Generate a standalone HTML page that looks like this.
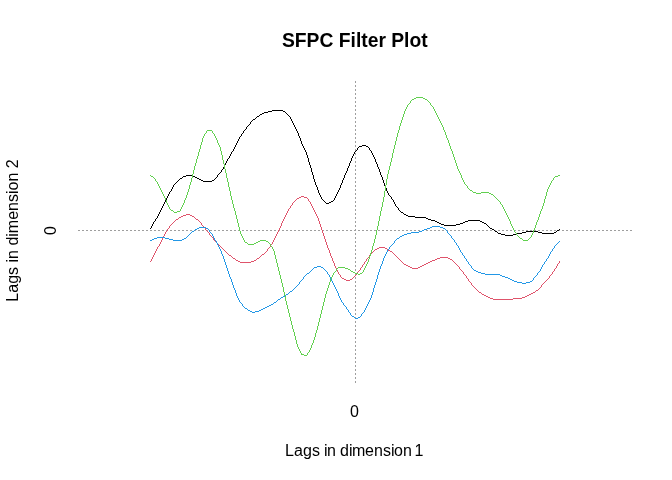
<!DOCTYPE html>
<html><head><meta charset="utf-8"><title>SFPC Filter Plot</title>
<style>
html,body{margin:0;padding:0;background:#fff;}
body{width:672px;height:480px;overflow:hidden;}
svg{display:block;}
text{font-family:"Liberation Sans",sans-serif;fill:#000;}
</style></head><body>
<svg width="672" height="480" viewBox="0 0 672 480">
<rect width="672" height="480" fill="#fff"/>
<g fill="none" stroke-width="1" shape-rendering="crispEdges">
<line x1="78" y1="230.5" x2="632" y2="230.5" stroke="#9E9E9E" stroke-dasharray="2 2"/>
<line x1="355.5" y1="383" x2="355.5" y2="79" stroke="#9E9E9E" stroke-dasharray="2 2"/>
</g>
<g fill="none" stroke-width="1" shape-rendering="crispEdges">
<path d="M150 228.5h1M151.5 226v2M152.5 224v2M153.5 222v2M154 221.5h1M155.5 219v2M156 218.5h1M157.5 216v2M158.5 214v2M159.5 212v2M160.5 210v2M161.5 208v2M162.5 206v2M163.5 204v2M164.5 202v2M165.5 200v2M166.5 198v2M167.5 196v2M168.5 194v2M169.5 192v2M170 191.5h1M171.5 189v2M172.5 187v2M173.5 185v2M174 184.5h1M175 183.5h1M176 182.5h1M177 181.5h1M178 180.5h1M179 179.5h1M180 178.5h2M182 177.5h1M183 176.5h3M186 175.5h7M193 176.5h2M195 177.5h2M197 178.5h2M199 179.5h2M201 180.5h2M203 181.5h9M212 180.5h2M214 179.5h1M215 178.5h1M216 177.5h1M217.5 175v2M218 174.5h1M219 173.5h1M220 172.5h1M221.5 170v2M222 169.5h1M223.5 167v2M224.5 165v2M225.5 163v2M226.5 161v2M227.5 159v2M228 158.5h1M229.5 156v2M230.5 154v2M231.5 152v2M232 151.5h1M233.5 149v2M234.5 147v2M235.5 145v2M236.5 143v2M237.5 141v2M238.5 139v2M239.5 137v2M240 136.5h1M241.5 134v2M242 133.5h1M243.5 131v2M244 130.5h1M245 129.5h1M246.5 127v2M247 126.5h1M248 125.5h1M249 124.5h1M250.5 122v2M251 121.5h1M252 120.5h1M253 119.5h2M255 118.5h1M256 117.5h1M257 116.5h2M259 115.5h1M260 114.5h2M262 113.5h2M264 112.5h4M268 111.5h4M272 110.5h11M283 111.5h2M285 112.5h1M286 113.5h1M287 114.5h1M288 115.5h1M289 116.5h1M290.5 117v2M291.5 119v2M292.5 121v2M293.5 123v2M294.5 125v2M295.5 127v2M296.5 129v2M297.5 131v2M298.5 133v3M299.5 136v2M300.5 138v3M301.5 141v3M302.5 144v2M303.5 146v2M304.5 148v2M305.5 150v2M306.5 152v3M307.5 155v3M308.5 158v4M309.5 162v3M310.5 165v3M311.5 168v4M312.5 172v3M313.5 175v4M314.5 179v3M315.5 182v3M316.5 185v2M317.5 187v3M318.5 190v3M319.5 193v2M320.5 195v2M321.5 197v2M322 199.5h1M323 200.5h1M324 201.5h1M325 202.5h1M326 203.5h3M329 202.5h2M331 201.5h2M333 200.5h1M334.5 198v2M335.5 196v2M336.5 194v2M337.5 192v2M338.5 190v2M339.5 188v2M340.5 185v3M341.5 183v2M342.5 180v3M343.5 178v2M344.5 175v3M345.5 173v2M346.5 171v2M347.5 168v3M348.5 166v2M349.5 163v3M350.5 161v2M351.5 158v3M352.5 156v2M353.5 154v2M354.5 152v2M355 151.5h1M356 150.5h1M357.5 148v2M358 147.5h1M359 146.5h3M362 145.5h4M366 146.5h2M368 147.5h1M369.5 148v2M370 150.5h1M371.5 151v2M372.5 153v2M373.5 155v2M374.5 157v2M375.5 159v3M376.5 162v2M377.5 164v3M378.5 167v2M379.5 169v3M380.5 172v3M381.5 175v2M382.5 177v3M383.5 180v3M384.5 183v3M385.5 186v2M386.5 188v3M387.5 191v2M388.5 193v2M389 195.5h1M390 196.5h1M391.5 197v2M392 199.5h1M393.5 200v2M394.5 202v2M395.5 204v2M396 206.5h1M397 207.5h1M398.5 208v2M399 210.5h1M400 211.5h1M401 212.5h2M403 213.5h1M404 214.5h2M406 215.5h2M408 216.5h7M415 217.5h11M426 218.5h2M428 219.5h3M431 220.5h4M435 221.5h2M437 222.5h2M439 223.5h2M441 224.5h3M444 225.5h12M456 224.5h4M460 223.5h3M463 222.5h2M465 221.5h3M468 220.5h12M480 221.5h2M482 222.5h2M484 223.5h2M486 224.5h1M487 225.5h1M488 226.5h1M489 227.5h1M490 228.5h2M492 229.5h2M494 230.5h1M495 231.5h2M497 232.5h1M498 233.5h3M501 234.5h4M505 235.5h8M513 234.5h4M517 233.5h5M522 232.5h4M526 231.5h12M538 232.5h4M542 233.5h12M554 232.5h2M556 231.5h1M557 230.5h2M559 229.5h1" stroke="#000000"/>
<path d="M150 261.5h1M151.5 259v2M152.5 257v2M153.5 255v2M154.5 253v2M155.5 251v2M156.5 249v2M157.5 247v2M158 246.5h1M159.5 244v2M160.5 242v2M161.5 240v2M162.5 238v2M163.5 236v2M164.5 234v2M165.5 232v2M166 231.5h1M167.5 229v2M168 228.5h1M169.5 226v2M170 225.5h1M171 224.5h1M172 223.5h1M173 222.5h1M174 221.5h1M175 220.5h1M176 219.5h2M178 218.5h1M179 217.5h2M181 216.5h2M183 215.5h3M186 214.5h4M190 215.5h2M192 216.5h2M194 217.5h1M195 218.5h1M196 219.5h2M198 220.5h1M199 221.5h1M200 222.5h1M201.5 223v2M202 225.5h1M203 226.5h1M204 227.5h1M205.5 228v2M206 230.5h1M207 231.5h1M208 232.5h1M209.5 233v2M210 235.5h1M211 236.5h1M212 237.5h1M213.5 238v2M214 240.5h1M215 241.5h1M216 242.5h1M217 243.5h1M218 244.5h1M219 245.5h1M220 246.5h1M221 247.5h1M222 248.5h1M223 249.5h1M224 250.5h1M225 251.5h1M226 252.5h1M227 253.5h1M228 254.5h1M229 255.5h2M231 256.5h1M232 257.5h1M233 258.5h2M235 259.5h1M236 260.5h2M238 261.5h2M240 262.5h11M251 261.5h3M254 260.5h2M256 259.5h1M257 258.5h2M259 257.5h1M260 256.5h1M261 255.5h1M262 254.5h2M264 253.5h1M265 252.5h1M266 251.5h1M267.5 249v2M268 248.5h1M269 247.5h1M270.5 245v2M271 244.5h1M272.5 242v2M273.5 240v2M274.5 238v2M275.5 236v2M276.5 234v2M277.5 232v2M278.5 230v2M279.5 228v2M280.5 226v2M281.5 223v3M282.5 221v2M283.5 219v2M284.5 217v2M285.5 215v2M286.5 213v2M287.5 211v2M288.5 209v2M289 208.5h1M290.5 206v2M291 205.5h1M292.5 203v2M293 202.5h1M294 201.5h1M295 200.5h1M296 199.5h1M297 198.5h2M299 197.5h2M301 196.5h3M304 197.5h3M307 198.5h1M308.5 199v2M309 201.5h1M310.5 202v2M311.5 204v2M312.5 206v2M313.5 208v2M314.5 210v2M315.5 212v2M316.5 214v2M317.5 216v2M318.5 218v3M319.5 221v3M320.5 224v3M321.5 227v3M322.5 230v3M323.5 233v3M324.5 236v3M325.5 239v3M326.5 242v3M327.5 245v3M328.5 248v2M329.5 250v3M330.5 253v3M331.5 256v2M332.5 258v3M333.5 261v2M334.5 263v3M335.5 266v2M336.5 268v2M337.5 270v2M338.5 272v2M339 274.5h1M340.5 275v2M341 277.5h1M342 278.5h2M344 279.5h2M346 280.5h4M350 279.5h2M352 278.5h1M353 277.5h1M354 276.5h1M355 275.5h1M356 274.5h1M357.5 272v2M358 271.5h1M359 270.5h1M360.5 268v2M361 267.5h1M362.5 265v2M363 264.5h1M364.5 262v2M365 261.5h1M366.5 259v2M367 258.5h1M368 257.5h1M369.5 255v2M370 254.5h1M371 253.5h1M372 252.5h1M373 251.5h1M374 250.5h1M375 249.5h2M377 248.5h2M379 247.5h6M385 248.5h2M387 249.5h1M388 250.5h2M390 251.5h2M392 252.5h1M393 253.5h1M394 254.5h1M395 255.5h1M396 256.5h1M397 257.5h1M398 258.5h1M399 259.5h1M400 260.5h1M401 261.5h1M402 262.5h1M403 263.5h1M404 264.5h2M406 265.5h2M408 266.5h2M410 267.5h2M412 268.5h6M418 267.5h2M420 266.5h2M422 265.5h2M424 264.5h2M426 263.5h2M428 262.5h2M430 261.5h2M432 260.5h3M435 259.5h2M437 258.5h3M440 257.5h8M448 258.5h2M450 259.5h2M452 260.5h1M453 261.5h1M454 262.5h1M455 263.5h1M456 264.5h1M457 265.5h1M458 266.5h1M459.5 267v2M460 269.5h1M461 270.5h1M462 271.5h1M463.5 272v2M464 274.5h1M465 275.5h1M466.5 276v2M467 278.5h1M468.5 279v2M469 281.5h1M470 282.5h1M471.5 283v2M472 285.5h1M473 286.5h1M474 287.5h1M475 288.5h1M476 289.5h1M477 290.5h1M478 291.5h1M479 292.5h2M481 293.5h1M482 294.5h2M484 295.5h2M486 296.5h2M488 297.5h2M490 298.5h3M493 299.5h20M513 298.5h9M522 297.5h3M525 296.5h2M527 295.5h2M529 294.5h2M531 293.5h2M533 292.5h2M535 291.5h1M536 290.5h2M538 289.5h1M539 288.5h1M540 287.5h1M541.5 285v2M542 284.5h1M543 283.5h1M544 282.5h1M545 281.5h1M546 280.5h1M547 279.5h1M548 278.5h1M549.5 276v2M550 275.5h1M551 274.5h1M552.5 272v2M553 271.5h1M554.5 269v2M555 268.5h1M556.5 266v2M557.5 264v2M558 263.5h1M559.5 261v2" stroke="#DF536B"/>
<path d="M150 175.5h1M151 176.5h2M153 177.5h1M154 178.5h1M155.5 179v2M156 181.5h1M157.5 182v2M158.5 184v2M159.5 186v2M160.5 188v2M161.5 190v2M162.5 192v2M163.5 194v2M164.5 196v2M165.5 198v2M166.5 200v3M167.5 203v2M168.5 205v2M169.5 207v2M170 209.5h1M171 210.5h2M173 211.5h1M174 212.5h3M177 211.5h3M180.5 209v2M181.5 207v2M182.5 205v2M183.5 203v2M184.5 200v3M185.5 198v2M186.5 195v3M187.5 192v3M188.5 189v3M189.5 185v4M190.5 182v3M191.5 178v4M192.5 174v4M193.5 170v4M194.5 166v4M195.5 163v3M196.5 159v4M197.5 156v3M198.5 152v4M199.5 149v3M200.5 145v4M201.5 142v3M202.5 138v4M203.5 136v2M204.5 134v2M205 133.5h1M206.5 131v2M207 130.5h5M212.5 131v2M213 133.5h1M214.5 134v2M215.5 136v2M216.5 138v2M217.5 140v3M218.5 143v2M219.5 145v2M220.5 147v4M221.5 151v4M222.5 155v5M223.5 160v4M224.5 164v5M225.5 169v4M226.5 173v5M227.5 178v4M228.5 182v5M229.5 187v4M230.5 191v5M231.5 196v4M232.5 200v4M233.5 204v4M234.5 208v3M235.5 211v4M236.5 215v4M237.5 219v4M238.5 223v4M239.5 227v4M240.5 231v3M241.5 234v2M242.5 236v2M243.5 238v2M244.5 240v2M245 242.5h2M247 243.5h1M248 244.5h6M254 243.5h2M256 242.5h2M258 241.5h2M260 240.5h6M266 241.5h2M268 242.5h1M269 243.5h1M270.5 244v2M271 246.5h1M272.5 247v2M273.5 249v2M274.5 251v4M275.5 255v4M276.5 259v4M277.5 263v4M278.5 267v4M279.5 271v4M280.5 275v4M281.5 279v4M282.5 283v4M283.5 287v5M284.5 292v4M285.5 296v5M286.5 301v4M287.5 305v4M288.5 309v4M289.5 313v4M290.5 317v4M291.5 321v4M292.5 325v4M293.5 329v3M294.5 332v4M295.5 336v4M296.5 340v4M297.5 344v3M298.5 347v2M299.5 349v2M300.5 351v2M301.5 353v2M302 354.5h2M304 355.5h3M307.5 353v2M308 352.5h1M309.5 350v2M310.5 348v2M311.5 345v3M312.5 343v2M313.5 340v3M314.5 337v3M315.5 333v4M316.5 330v3M317.5 326v4M318.5 322v4M319.5 318v4M320.5 314v4M321.5 310v4M322.5 306v4M323.5 302v4M324.5 298v4M325.5 294v4M326.5 291v3M327.5 288v3M328.5 285v3M329.5 282v3M330.5 279v3M331.5 277v2M332.5 275v2M333.5 273v2M334 272.5h1M335 271.5h1M336.5 269v2M337 268.5h1M338 267.5h7M345 268.5h3M348 269.5h2M350 270.5h1M351 271.5h2M353 272.5h2M355 273.5h3M358 274.5h2M360 273.5h2M362 272.5h1M363.5 270v2M364.5 268v2M365.5 266v2M366.5 264v2M367.5 262v2M368.5 259v3M369.5 256v3M370.5 253v3M371.5 250v3M372.5 246v4M373.5 243v3M374.5 239v4M375.5 235v4M376.5 230v5M377.5 226v4M378.5 221v5M379.5 216v5M380.5 211v5M381.5 207v4M382.5 202v5M383.5 197v5M384.5 191v6M385.5 185v6M386.5 179v6M387.5 174v5M388.5 170v4M389.5 166v4M390.5 162v4M391.5 158v4M392.5 153v5M393.5 149v4M394.5 145v4M395.5 141v4M396.5 137v4M397.5 133v4M398.5 130v3M399.5 126v4M400.5 123v3M401.5 120v3M402.5 117v3M403.5 114v3M404.5 111v3M405.5 109v2M406.5 107v2M407.5 105v2M408 104.5h1M409 103.5h1M410.5 101v2M411 100.5h1M412 99.5h2M414 98.5h2M416 97.5h7M423 98.5h2M425 99.5h2M427 100.5h1M428 101.5h1M429 102.5h1M430.5 103v2M431 105.5h1M432 106.5h1M433.5 107v2M434.5 109v2M435.5 111v2M436.5 113v2M437.5 115v2M438.5 117v2M439.5 119v2M440.5 121v2M441.5 123v2M442.5 125v2M443.5 127v3M444.5 130v2M445.5 132v3M446.5 135v3M447.5 138v2M448.5 140v3M449.5 143v3M450.5 146v3M451.5 149v2M452.5 151v3M453.5 154v3M454.5 157v3M455.5 160v3M456.5 163v3M457.5 166v3M458.5 169v2M459.5 171v2M460.5 173v2M461.5 175v3M462.5 178v2M463.5 180v2M464.5 182v2M465 184.5h1M466 185.5h1M467.5 186v2M468 188.5h1M469 189.5h1M470 190.5h2M472 191.5h1M473 192.5h3M476 193.5h5M481 192.5h8M489 193.5h2M491 194.5h2M493 195.5h1M494 196.5h1M495 197.5h1M496 198.5h1M497 199.5h1M498 200.5h1M499 201.5h1M500.5 202v2M501 204.5h1M502.5 205v2M503.5 207v2M504.5 209v2M505.5 211v2M506.5 213v2M507.5 215v2M508.5 217v2M509.5 219v2M510.5 221v3M511.5 224v2M512.5 226v2M513.5 228v2M514.5 230v2M515 232.5h1M516.5 233v2M517 235.5h1M518 236.5h1M519 237.5h1M520 238.5h2M522 239.5h1M523 240.5h5M528 239.5h1M529 238.5h1M530 237.5h1M531.5 235v2M532.5 233v2M533.5 230v3M534.5 228v2M535.5 225v3M536.5 222v3M537.5 220v2M538.5 217v3M539.5 214v3M540.5 211v3M541.5 209v2M542.5 206v3M543.5 203v3M544.5 199v4M545.5 196v3M546.5 192v4M547.5 189v3M548.5 187v2M549.5 185v2M550.5 183v2M551.5 181v2M552 180.5h1M553.5 178v2M554 177.5h1M555 176.5h3M558 175.5h2" stroke="#61D04F"/>
<path d="M150 240.5h2M152 239.5h2M154 238.5h3M157 237.5h8M165 238.5h4M169 239.5h4M173 240.5h9M182 239.5h2M184 238.5h2M186 237.5h1M187 236.5h1M188 235.5h1M189 234.5h1M190 233.5h1M191 232.5h1M192 231.5h2M194 230.5h1M195 229.5h2M197 228.5h2M199 227.5h7M206 228.5h2M208 229.5h1M209.5 230v2M210 232.5h1M211 233.5h1M212.5 234v2M213.5 236v2M214.5 238v2M215 240.5h1M216.5 241v2M217.5 243v2M218.5 245v2M219.5 247v2M220.5 249v2M221.5 251v3M222.5 254v2M223.5 256v3M224.5 259v3M225.5 262v3M226.5 265v3M227.5 268v3M228.5 271v3M229.5 274v3M230.5 277v2M231.5 279v3M232.5 282v3M233.5 285v3M234.5 288v2M235.5 290v3M236.5 293v3M237.5 296v2M238.5 298v2M239.5 300v2M240 302.5h1M241 303.5h1M242.5 304v2M243 306.5h1M244 307.5h1M245 308.5h2M247 309.5h1M248 310.5h2M250 311.5h2M252 312.5h3M255 311.5h4M259 310.5h2M261 309.5h2M263 308.5h2M265 307.5h2M267 306.5h2M269 305.5h2M271 304.5h2M273 303.5h1M274 302.5h2M276 301.5h1M277 300.5h1M278 299.5h2M280 298.5h1M281 297.5h2M283 296.5h2M285 295.5h1M286 294.5h2M288 293.5h1M289 292.5h1M290 291.5h2M292 290.5h1M293 289.5h1M294 288.5h1M295 287.5h1M296 286.5h1M297 285.5h1M298 284.5h1M299.5 282v2M300 281.5h1M301 280.5h1M302 279.5h1M303.5 277v2M304 276.5h1M305 275.5h1M306 274.5h1M307 273.5h2M309 272.5h1M310 271.5h1M311 270.5h1M312 269.5h1M313 268.5h1M314 267.5h3M317 266.5h4M321 267.5h2M323 268.5h1M324 269.5h1M325 270.5h1M326 271.5h1M327.5 272v2M328 274.5h1M329.5 275v2M330.5 277v2M331.5 279v2M332.5 281v2M333.5 283v2M334.5 285v2M335.5 287v2M336.5 289v2M337.5 291v2M338.5 293v3M339.5 296v2M340.5 298v2M341.5 300v2M342 302.5h1M343.5 303v2M344 305.5h1M345 306.5h1M346.5 307v2M347 309.5h1M348.5 310v2M349 312.5h1M350.5 313v2M351 315.5h1M352 316.5h2M354 317.5h1M355 318.5h3M358 317.5h2M360 316.5h1M361.5 314v2M362 313.5h1M363 312.5h1M364.5 310v2M365.5 308v2M366.5 306v2M367.5 304v2M368.5 302v2M369.5 300v2M370.5 298v2M371.5 295v3M372.5 292v3M373.5 288v4M374.5 285v3M375.5 282v3M376.5 279v3M377.5 275v4M378.5 272v3M379.5 269v3M380.5 266v3M381.5 264v2M382.5 261v3M383.5 258v3M384.5 256v2M385.5 254v2M386.5 252v2M387.5 250v2M388 249.5h1M389.5 247v2M390 246.5h1M391 245.5h1M392 244.5h1M393 243.5h1M394.5 241v2M395 240.5h1M396 239.5h1M397 238.5h2M399 237.5h1M400 236.5h2M402 235.5h2M404 234.5h3M407 233.5h4M411 232.5h8M419 231.5h3M422 230.5h2M424 229.5h3M427 228.5h3M430 227.5h2M432 226.5h8M440 227.5h3M443 228.5h2M445 229.5h1M446 230.5h1M447.5 231v2M448 233.5h1M449 234.5h1M450 235.5h1M451.5 236v2M452 238.5h1M453 239.5h1M454.5 240v2M455 242.5h1M456.5 243v2M457 245.5h1M458.5 246v2M459.5 248v2M460.5 250v2M461 252.5h1M462.5 253v2M463 255.5h1M464.5 256v2M465 258.5h1M466.5 259v2M467 261.5h1M468.5 262v2M469 264.5h1M470 265.5h1M471.5 266v2M472 268.5h1M473 269.5h1M474 270.5h2M476 271.5h2M478 272.5h3M481 273.5h4M485 274.5h15M500 275.5h2M502 276.5h3M505 277.5h3M508 278.5h2M510 279.5h2M512 280.5h2M514 281.5h3M517 282.5h5M522 283.5h4M526 282.5h4M530 281.5h2M532 280.5h1M533.5 278v2M534 277.5h1M535 276.5h1M536 275.5h1M537.5 273v2M538 272.5h1M539 271.5h1M540.5 269v2M541.5 267v2M542.5 265v2M543 264.5h1M544.5 262v2M545 261.5h1M546.5 259v2M547 258.5h1M548.5 256v2M549.5 254v2M550.5 252v2M551 251.5h1M552.5 249v2M553 248.5h1M554.5 246v2M555 245.5h1M556 244.5h1M557 243.5h1M558 242.5h1M559 241.5h1" stroke="#2297E6"/>
</g>
<text transform="translate(354.8 46.5) scale(1 1.09)" font-size="19.3" font-weight="bold" text-anchor="middle">SFPC Filter Plot</text>
<text x="354.5" y="417" font-size="16" text-anchor="middle">0</text>
<text x="285 294 303 312 320 324 327 336 340 349 352 365 374 383 391 394 403 412 414.5" y="456" font-size="16">Lags in dimension 1</text>
<text transform="translate(18 230.5) rotate(-90)" font-size="16" text-anchor="middle">Lags in dimension 2</text>
<text transform="translate(56 230.5) rotate(-90)" font-size="16" text-anchor="middle">0</text>
</svg>
</body></html>
